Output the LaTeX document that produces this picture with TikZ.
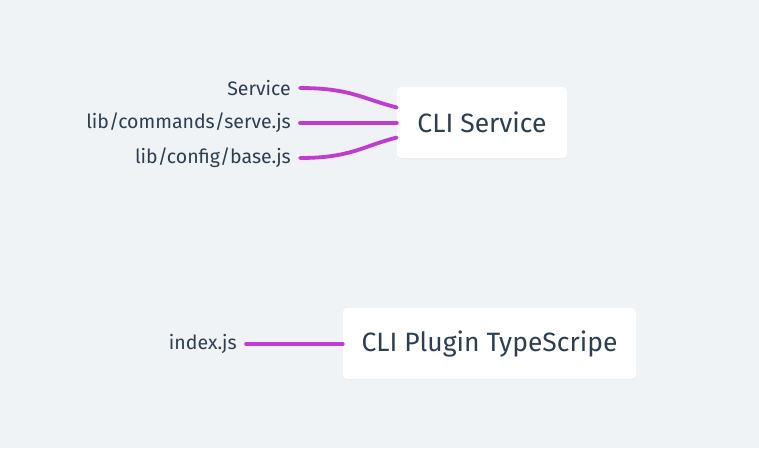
\documentclass[tikz,border=0pt]{standalone}
\usepackage{fontspec}
\setmainfont{Fira Sans}
\usetikzlibrary{shadows}
\definecolor{bgcol}{HTML}{F0F3F6}
\definecolor{inkcol}{HTML}{2C3E50}
\definecolor{wirecol}{HTML}{C03BD0}
\tikzset{
    modbox/.style={draw=none,fill=white,rounded corners=4pt,minimum height=71pt,
        font=\fontsize{26.5}{30}\selectfont,text=inkcol,inner xsep=12pt,
        drop shadow={opacity=0.06,shadow xshift=0pt,shadow yshift=-1pt}},
    filelabel/.style={anchor=east,inner sep=0pt,text=inkcol,font=\fontsize{19.5}{22}\selectfont},
    wire/.style={draw=wirecol,line width=3.8pt,line cap=round}
}

\begin{document}
\begin{tikzpicture}[x=1pt,y=-1pt]
        \fill[bgcol] (0,0) rectangle (759,448);
        \useasboundingbox (0,0) rectangle (759,448);
        % CLI Service group
        \node[modbox,minimum width=170pt] (cli) at (482,122.5) {CLI Service};
        \node[filelabel] (svc) at (291,88) {Service};
        \node[filelabel] (cmd) at (291,123) {lib/commands/serve.js};
        \node[filelabel] (cfg) at (291,158) {lib/config/base.js};
        \coordinate (svcend) at ([xshift=9pt]svc.east);
        \coordinate (cmdend) at ([xshift=9pt]cmd.east);
        \coordinate (cfgend) at ([xshift=9pt]cfg.east);
        \coordinate (svcin) at ([yshift=15pt]cli.west);
        \coordinate (cfgin) at ([yshift=-15pt]cli.west);
        \draw[wire] (svcend) .. controls +(50,0) and +(-35,-9) .. (svcin);
        \draw[wire] (cmdend) -- (cmdend -| cli.west);
        \draw[wire] (cfgend) .. controls +(50,0) and +(-35,9) .. (cfgin);
        % CLI Plugin TypeScript group
        \node[modbox,minimum width=293pt] (plugin) at (489.5,343.5) {CLI Plugin TypeScripe};
        \node[filelabel] (idx) at (237,344) {index.js};
        \coordinate (idxend) at ([xshift=9pt]idx.east);
        \draw[wire] (idxend) -- (idxend -| plugin.west);
    \end{tikzpicture}
\end{document}
